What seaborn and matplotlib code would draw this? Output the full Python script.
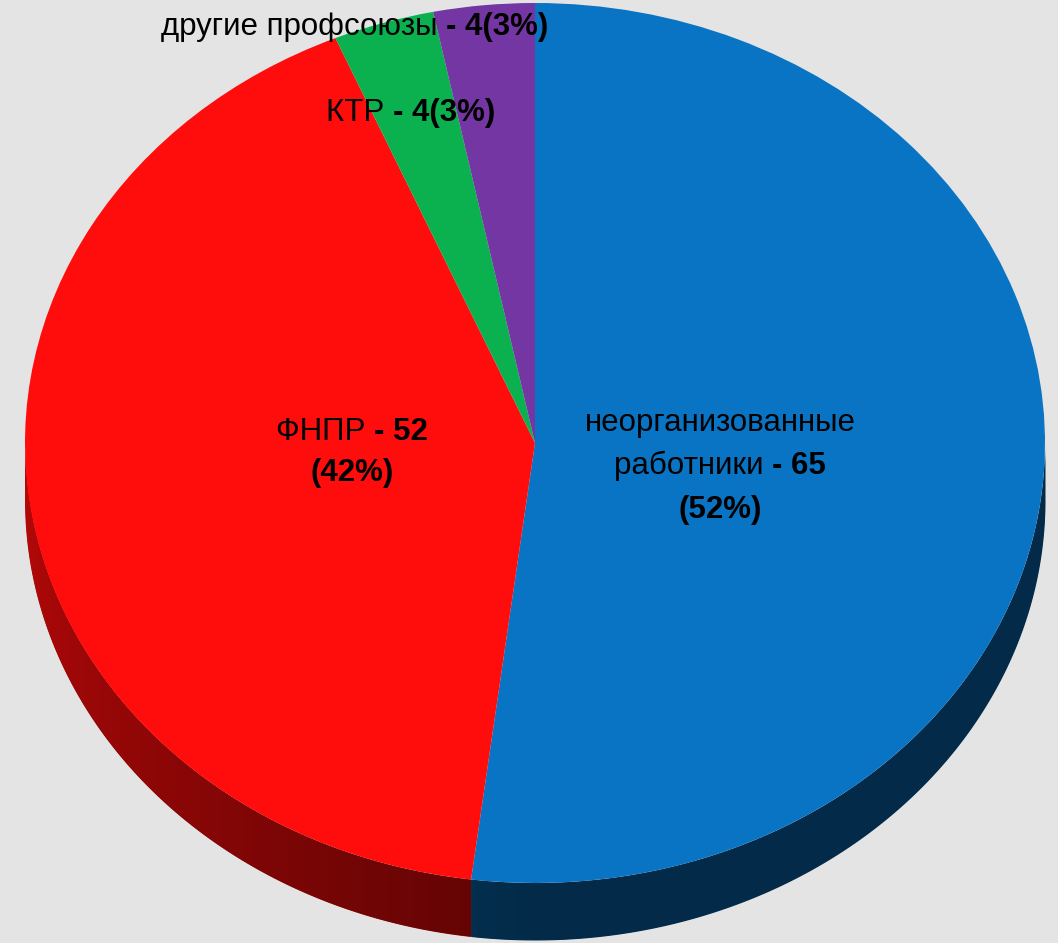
import numpy as np
import matplotlib
matplotlib.use("Agg")
import matplotlib.pyplot as plt
import seaborn as sns
from matplotlib.colors import to_rgb

# ---- data ----
categories = ["неорганизованные работники", "ФНПР", "КТР", "другие профсоюзы"]
values = [65, 52, 4, 4]
percents = ["52%", "42%", "3%", "3%"]
colors = ["#0a74c4", "#ff0c0c", "#0bb14f", "#7436a2"]

sns.set_style("white")
plt.rcParams["font.family"] = ["Liberation Sans Narrow", "Liberation Sans", "DejaVu Sans"]

W, H, DPI = 1058, 943, 100
fig = plt.figure(figsize=(W / DPI, H / DPI), dpi=DPI)
bg = "#e4e4e4"
fig.patch.set_facecolor(bg)
ax = fig.add_axes([0, 0, 1, 1])
ax.set_facecolor(bg)

wedges, _ = ax.pie(values, colors=colors, startangle=90, counterclock=False,
                   radius=1, center=(0, 0), wedgeprops=dict(linewidth=0, zorder=5))
ax.set_aspect("auto")

# pixel geometry
cx, cy_top, rx, ry = 535, 443, 510, 440
xlim = (-cx / rx, (W - cx) / rx)
ylim = (-(H - cy_top) / ry, cy_top / ry)
ax.set_xlim(*xlim)
ax.set_ylim(*ylim)
ax.axis("off")

depth = 57 / ry

def shade_x(x):
    # angle on the front rim (180..360 deg) from x
    t = 360 - np.degrees(np.arccos(np.clip(x, -1, 1)))
    return np.where(t < 270, 0.72 + (0.37 - 0.72) * (t - 180) / 90.0, 0.37)

# side of the 3D pie: polygon per slice, filled with a gradient clipped to it
for w, c in zip(wedges, colors):
    a1, a2 = sorted([w.theta1, w.theta2])
    for off in (-360, 0, 360):
        lo, hi = max(a1 + off, 180), min(a2 + off, 360)
        if hi <= lo:
            continue
        angs = np.radians(np.linspace(lo, hi, 400))
        xs, ys = np.cos(angs), np.sin(angs)
        base = np.array(to_rgb(c))
        mid = base * float(shade_x(np.cos(np.radians((lo + hi) / 2))))
        poly = ax.fill_between(xs, ys, ys - depth, color=mid, linewidth=0, zorder=2)
        gx = np.linspace(xs.min(), xs.max(), 300)
        img = (base[None, None, :] * shade_x(gx)[None, :, None])
        im = ax.imshow(img, extent=(gx.min(), gx.max(), ys.min() - depth, ys.max()),
                       aspect="auto", origin="lower", zorder=3, interpolation="bilinear")
        poly_path = poly.get_paths()[0]
        im.set_clip_path(poly_path, transform=ax.transData)

ax.set_xlim(*xlim)
ax.set_ylim(*ylim)

# ---- labels ----
renderer = fig.canvas.get_renderer()
FS = 22.5

def line(parts, xc, y_px):
    arts = []
    for txt, wt in parts:
        t = fig.text(0, 0, txt, fontsize=FS, fontweight=wt, color="black",
                     ha="left", va="center", transform=None, zorder=10)
        arts.append(t)
    widths = [a.get_window_extent(renderer).width for a in arts]
    total = sum(widths)
    x = xc - total / 2
    for a, wdt in zip(arts, widths):
        a.set_position((x, H - y_px))
        x += wdt

line([("неорганизованные", "normal")], 720, 423)
line([("работники ", "normal"), ("- " + str(values[0]), "bold")], 720, 466)
line([("(" + percents[0] + ")", "bold")], 720, 510)

line([("ФНПР ", "normal"), ("- " + str(values[1]), "bold")], 352, 432)
line([("(" + percents[1] + ")", "bold")], 352, 473)

line([("КТР ", "normal"), ("- " + str(values[2]) + "(" + percents[2] + ")", "bold")], 411, 113)
line([("другие профсоюзы ", "normal"), ("- " + str(values[3]) + "(" + percents[3] + ")", "bold")], 355, 27)

fig.savefig("out.png", dpi=DPI, facecolor=bg)
